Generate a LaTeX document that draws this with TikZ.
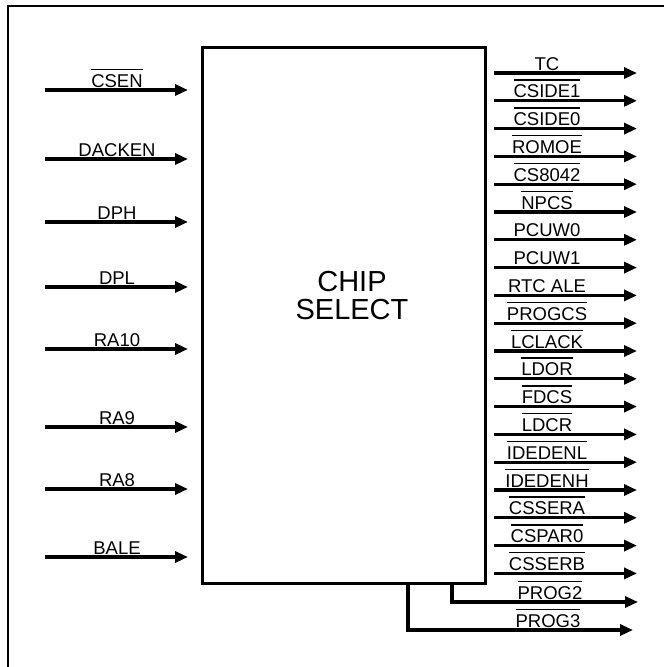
\documentclass[tikz,border=0pt]{standalone}
\usepackage{fontspec}
\setmainfont{Liberation Sans}
\usetikzlibrary{positioning, arrows.meta}
\newcommand{\nbar}[1]{\setbox0=\hbox{#1}\rlap{\rule[17pt]{\wd0}{1.5pt}}\box0}

\begin{document}
\begin{tikzpicture}[
    x=1pt, y=-1pt,
    font=\fontsize{18.5}{20}\selectfont,
    chipbox/.style={
      draw, line width=3pt, minimum width=283pt, minimum height=536pt, inner sep=0pt
    },
    sig/.style={line width=3.2pt, -{Triangle[length=13pt,width=11pt]}},
    pin/.style={anchor=base, inner sep=0pt},
    frame/.style={line width=1.6pt}
  ]
  \useasboundingbox (0,0) rectangle (664,667);
  \draw[frame] (8,667) -- (8,6) -- (664,6);

  \node[chipbox] (cs) at (343.5,315) {};
  \node[font=\fontsize{29}{28}\selectfont, align=center] (title) at (352,296) {CHIP\\SELECT};

  % inputs
  \foreach \name/\y [count=\i] in {{\nbar{CSEN}}/90, DACKEN/159, DPH/222, DPL/287,
      RA10/349, RA9/427, RA8/489, BALE/557}{
    \coordinate (in\i) at (45,\y);
    \coordinate (inTip\i) at (188,\y);
    \node[pin] (inLbl\i) at (117,\y-3) {\name};
    \draw[sig] (in\i) -- (inTip\i);
  }

  % outputs
  \foreach \name [count=\i from 0] in {TC, \nbar{CSIDE1}, \nbar{CSIDE0}, \nbar{ROMOE},
      \nbar{CS8042}, \nbar{NPCS}, PCUW0, PCUW1, RTC ALE, \nbar{PROGCS}, \nbar{LCLACK},
      \nbar{LDOR}, \nbar{FDCS}, \nbar{LDCR}, \nbar{IDEDENL}, \nbar{IDEDENH},
      \nbar{CSSERA}, \nbar{CSPAR0}, \nbar{CSSERB}}{
    \pgfmathsetmacro\yy{73+27.8*\i}
    \coordinate (out\i) at (494,\yy);
    \coordinate (outTip\i) at (637,\yy);
    \node[pin] (outLbl\i) at (547,\yy-3) {\name};
    \draw[sig] (out\i) -- (outTip\i);
  }

  % bent outputs from the bottom edge
  \coordinate (p2Top) at (452,583);
  \coordinate (p2Tip) at (638,602);
  \coordinate (p3Top) at (408,583);
  \coordinate (p3Tip) at (633,630);
  \draw[sig] (p2Top) |- (p2Tip);
  \draw[sig] (p3Top) |- (p3Tip);
  \node[pin] (p2Lbl) at (550,599) {\nbar{PROG2}};
  \node[pin] (p3Lbl) at (548,627) {\nbar{PROG3}};
\end{tikzpicture}
\end{document}
